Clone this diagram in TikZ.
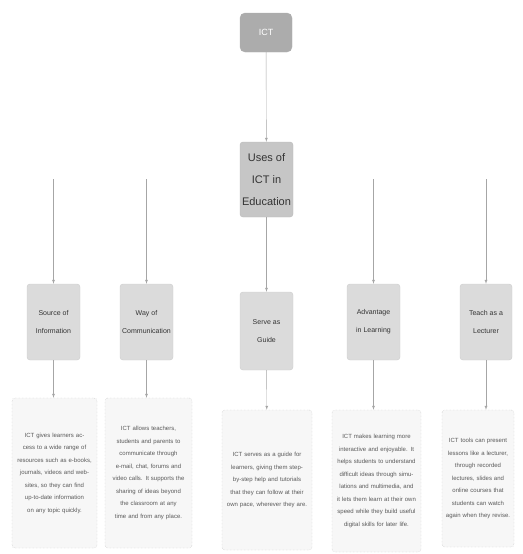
\documentclass[tikz,border=0pt]{standalone}
\usepackage{fontspec}
\setmainfont{Liberation Sans}
\usepackage{tikz}

\begin{document}
\begin{tikzpicture}[x=1pt,y=-1pt,
    box/.style={rounded corners=3pt,inner sep=0pt,align=center},
    topbox/.style={box,rounded corners=5pt,fill=gray!65,draw=gray!65,text=white,font=\fontsize{9}{11}\selectfont},
    mainbox/.style={box,fill=gray!45,draw=gray!55,text=black!80,font=\fontsize{11}{22}\selectfont},
    subbox/.style={box,fill=gray!28,draw=gray!40,text=gray!40!black,font=\fontsize{7}{18}\selectfont},
    bodybox/.style={box,fill=gray!6,draw=gray!55,densely dotted,text=gray!70!black,font=\fontsize{6}{12.5}\selectfont},
    link/.style={draw=gray!70,thin,-latex}]
      \useasboundingbox (0,0) rectangle (522,554);
      % top
      \node[topbox,minimum width=52pt,minimum height=39pt] (ict) at (266,32.5) {ICT};
      \node[mainbox,minimum width=53pt,minimum height=75pt] (uses) at (266.5,179.5) {Uses of\\ICT in\\Education};
      % second row
      \node[subbox,minimum width=53pt,minimum height=76pt] (source) at (53.5,322) {Source of\\Information};
      \node[subbox,minimum width=53pt,minimum height=76pt] (comm) at (146.5,322) {Way of\\Communication};
      \node[subbox,minimum width=53pt,minimum height=78pt] (guide) at (266.5,331) {Serve as\\Guide};
      \node[subbox,minimum width=53pt,minimum height=76pt] (adv) at (373.5,322) {Advantage\\in Learning};
      \node[subbox,minimum width=52pt,minimum height=76pt] (teach) at (486,322) {Teach as a\\Lecturer};
      % third row
      \node[bodybox,minimum width=85pt,minimum height=150pt,text width=76pt] (body1) at (54.5,473)
        {ICT gives learners access to a wide range of resources such as e-books, journals, videos and websites, so they can find up-to-date information on any topic quickly.};
      \node[bodybox,minimum width=87pt,minimum height=150pt,text width=78pt] (body2) at (148.5,473)
        {ICT allows teachers, students and parents to communicate through e-mail, chat, forums and video calls. It supports the sharing of ideas beyond the classroom at any time and from any place.};
      \node[bodybox,minimum width=90pt,minimum height=140pt,text width=82pt] (body3) at (267,480)
        {ICT serves as a guide for learners, giving them step-by-step help and tutorials that they can follow at their own pace, wherever they are.};
      \node[bodybox,minimum width=89pt,minimum height=142pt,text width=80pt] (body4) at (376.5,481)
        {ICT makes learning more interactive and enjoyable. It helps students to understand difficult ideas through simulations and multimedia, and it lets them learn at their own speed while they build useful digital skills for later life.};
      \node[bodybox,minimum width=72pt,minimum height=137pt,text width=66pt] (body5) at (478,478.5)
        {ICT tools can present lessons like a lecturer, through recorded lectures, slides and online courses that students can watch again when they revise.};
      % free ends of the side links
      \coordinate (top1) at (53.5,179);
      \coordinate (top2) at (146.5,179);
      \coordinate (top4) at (373.5,179);
      \coordinate (top5) at (486,179);
      % links
      \draw[link] (ict) -- (uses);
      \draw[link] (uses) -- (guide);
      \draw[link] (top1) -- (source);
      \draw[link] (top2) -- (comm);
      \draw[link] (top4) -- (adv);
      \draw[link] (top5) -- (teach);
      \draw[link] (source) -- (source.south |- body1.north);
      \draw[link] (comm) -- (comm.south |- body2.north);
      \draw[link] (guide) -- (body3);
      \draw[link] (adv) -- (adv.south |- body4.north);
      \draw[link] (teach) -- (teach.south |- body5.north);
    \end{tikzpicture}
\end{document}
